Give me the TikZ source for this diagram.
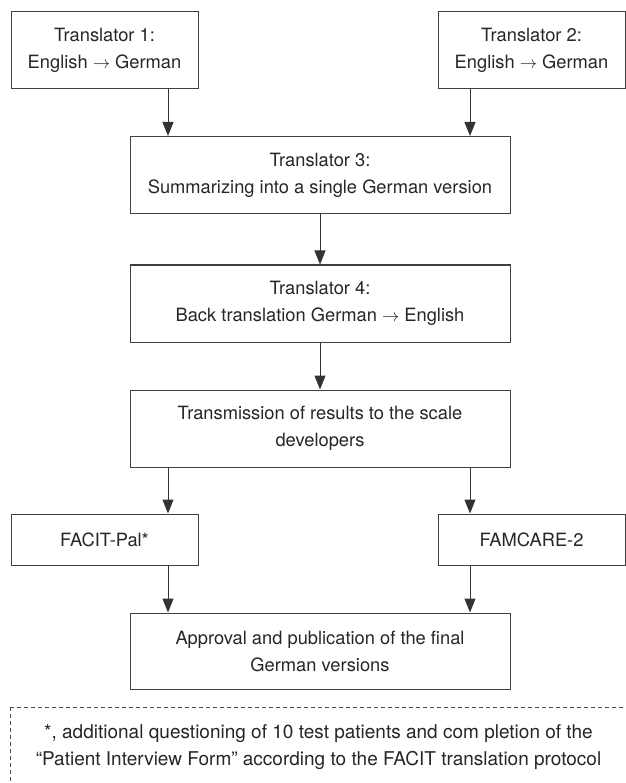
\documentclass[tikz,border=0pt]{standalone}
\usepackage{fontspec}
\setmainfont{TeX Gyre Heros}
\usetikzlibrary{arrows.meta,positioning}
\tikzset{
    stepSide/.style={rectangle, draw=black!75, line width=1pt, text=black!85, align=center, minimum width=187pt, minimum height=77pt, font=\fontsize{18.3}{27}\selectfont},
    stepMid/.style={stepSide, minimum width=380pt},
    stepShort/.style={stepSide, minimum height=51pt},
    flow/.style={-{Triangle[length=14pt,width=11pt]}, line width=1pt, draw=black!80},
    noteFrame/.style={dash pattern=on 4pt off 3pt, line width=0.8pt, draw=black!70}
}

\begin{document}
\begin{tikzpicture}[x=1pt,y=-1pt]
\useasboundingbox (0,0) rectangle (625,783);

% translators
\node[stepSide] (T1) at (104.5,50.5) {Translator 1:\\English $\rightarrow$ German};
\node[stepSide] (T2) at (531.5,50.5) {Translator 2:\\English $\rightarrow$ German};
\node[stepMid] (T3) at (320,175) {Translator 3:\\Summarizing into a single German version};
\node[stepMid] (T4) at (320,303.5) {Translator 4:\\Back translation German $\rightarrow$ English};
\node[stepMid] (T5) at (320,428.5) {Transmission of results to the scale\\developers};

% scales
\node[stepShort] (S1) at (104.5,539.5) {FACIT-Pal*};
\node[stepShort] (S2) at (531.5,539.5) {FAMCARE-2};
\node[stepMid,minimum height=76pt] (F) at (320,651) {Approval and publication of the final\\German versions};

% footnote
\draw[noteFrame] (10,707) rectangle (640,800);
\node[text=black!85, align=center, font=\fontsize{19}{27}\selectfont] (note) at (318.5,747)
  {*, additional questioning of 10 test patients and com pletion of the\\“Patient Interview Form” according to the FACIT translation protocol};

% Draw arrows
\coordinate (lft) at (168,0);
\coordinate (mid) at (320,0);
\coordinate (rgt) at (470,0);
\foreach \a/\b/\c in {T1/T3/lft, T2/T3/rgt, T3/T4/mid, T4/T5/mid, T5/S1/lft, T5/S2/rgt, S1/F/lft, S2/F/rgt} {
  \draw[flow] (\a.south -| \c) -- (\b.north -| \c);
}

\end{tikzpicture}
\end{document}
